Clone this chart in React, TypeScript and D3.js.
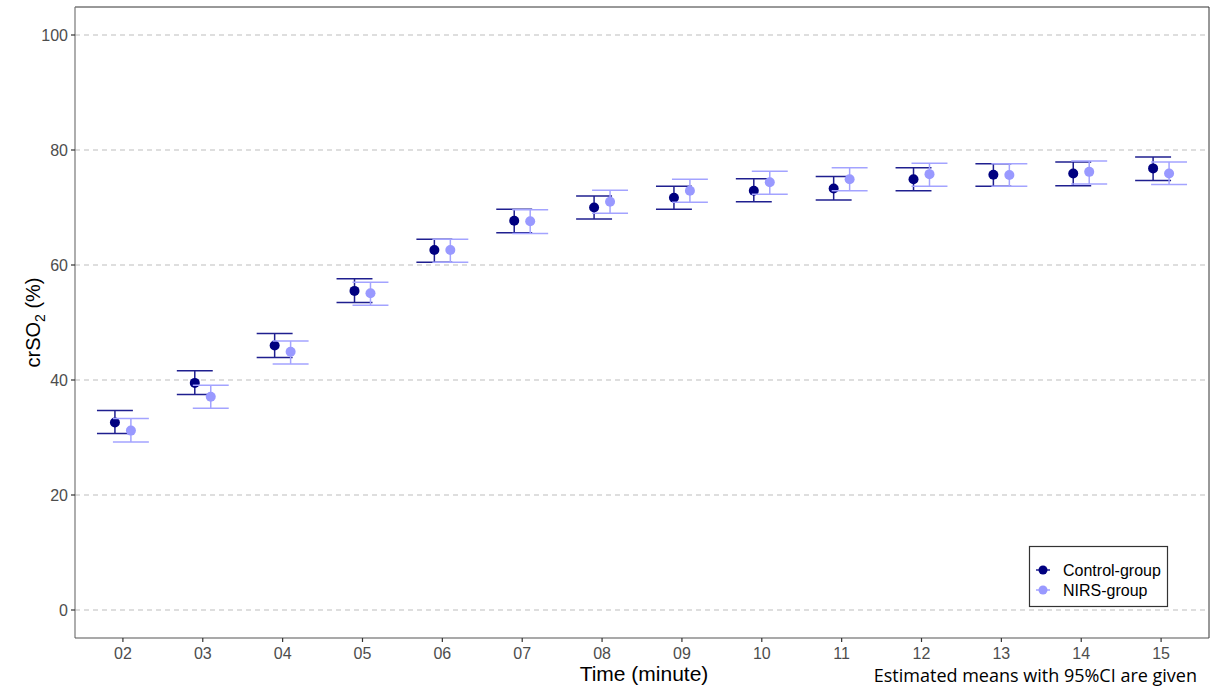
import React from "react";
import * as d3 from "d3";

const minutes = ["02", "03", "04", "05", "06", "07", "08", "09", "10", "11", "12", "13", "14", "15"];
const controlMean = [32.6, 39.5, 46.0, 55.5, 62.6, 67.7, 70.0, 71.7, 72.9, 73.3, 74.9, 75.7, 75.9, 76.8];
const controlLow = [30.7, 37.5, 43.9, 53.5, 60.5, 65.6, 68.0, 69.7, 71.0, 71.3, 72.9, 73.7, 73.8, 74.7];
const controlHigh = [34.7, 41.6, 48.1, 57.6, 64.5, 69.7, 72.0, 73.7, 75.0, 75.4, 76.9, 77.6, 77.9, 78.8];
const nirsMean = [31.2, 37.1, 44.9, 55.1, 62.6, 67.6, 71.0, 72.9, 74.4, 74.9, 75.8, 75.65, 76.2, 75.9];
const nirsLow = [29.2, 35.1, 42.8, 53.0, 60.5, 65.5, 69.0, 70.9, 72.3, 72.9, 73.7, 73.7, 74.1, 74.0];
const nirsHigh = [33.3, 39.1, 46.8, 57.0, 64.5, 69.6, 73.0, 74.9, 76.3, 76.9, 77.7, 77.6, 78.1, 77.9];
const yTicks = [0, 20, 40, 60, 80, 100];
const groups = ["Control-group", "NIRS-group"];

const W = 1210, H = 690;
const left = 75, right = 1209, top = 7, bottom = 638;

export default function App() {
  const x = d3.scaleLinear().domain([-0.6, minutes.length - 1 + 0.6]).range([left, right]);
  const y = d3.scaleLinear().domain([-5, 105]).range([bottom + 0.75, top - 0.75]);
  const dodge = 0.1;
  const capHalf = 0.225;

  const series = [
    { name: groups[0], mean: controlMean, low: controlLow, high: controlHigh, off: -dodge, pt: "#000080", bar: "#1f1f8f" },
    { name: groups[1], mean: nirsMean, low: nirsLow, high: nirsHigh, off: dodge, pt: "#9999ff", bar: "#a3a3ff" },
  ];
  const font = "Arial, 'Liberation Sans', sans-serif";

  return (
    <svg width={W} height={H} style={{ position: "absolute", left: 0, top: 0, background: "#fff" }}>
      <rect x={0} y={0} width={W} height={H} fill="#fff" />
      {yTicks.map((t) => (
        <line key={t} x1={left} x2={right} y1={y(t)} y2={y(t)} stroke="#bdbdbd" strokeWidth={1.2} strokeDasharray="5,4" />
      ))}
      <line x1={left} x2={right} y1={top} y2={top} stroke="#333" strokeWidth={1} />
      <line x1={right} x2={right} y1={top} y2={bottom} stroke="#333" strokeWidth={1} />
      <line x1={left} x2={left} y1={top} y2={bottom} stroke="#777" strokeWidth={1.2} />
      <line x1={left} x2={right} y1={bottom} y2={bottom} stroke="#555" strokeWidth={1.2} />
      {yTicks.map((t) => (
        <g key={t}>
          <line x1={left - 4} x2={left} y1={y(t)} y2={y(t)} stroke="#333" strokeWidth={1.2} />
          <text x={left - 7} y={y(t)} dy="0.36em" textAnchor="end" fontFamily={font} fontSize={16} fill="#4d4d4d">{t}</text>
        </g>
      ))}
      {minutes.map((m, i) => (
        <g key={m}>
          <line x1={x(i)} x2={x(i)} y1={bottom} y2={bottom + 4} stroke="#333" strokeWidth={1.2} />
          <text x={x(i)} y={bottom + 21} textAnchor="middle" fontFamily={font} fontSize={16} fill="#4d4d4d">{m}</text>
        </g>
      ))}
      {series.map((s) => (
        <g key={s.name}>
          {minutes.map((m, i) => {
            const cx = x(i + s.off);
            const xl = x(i + s.off - capHalf);
            const xr = x(i + s.off + capHalf);
            return (
              <g key={m}>
                <line x1={cx} x2={cx} y1={y(s.low[i])} y2={y(s.high[i])} stroke={s.bar} strokeWidth={1.5} />
                <line x1={xl} x2={xr} y1={y(s.low[i])} y2={y(s.low[i])} stroke={s.bar} strokeWidth={1.5} />
                <line x1={xl} x2={xr} y1={y(s.high[i])} y2={y(s.high[i])} stroke={s.bar} strokeWidth={1.5} />
              </g>
            );
          })}
          {minutes.map((m, i) => (
            <circle key={m} cx={x(i + s.off)} cy={y(s.mean[i])} r={5} fill={s.pt} />
          ))}
        </g>
      ))}
      <text x={644} y={681} textAnchor="middle" fontFamily={font} fontSize={21} fill="#000">Time (minute)</text>
      <text transform={`translate(40,${(top + bottom) / 2}) rotate(-90)`} textAnchor="middle" fontFamily={font} fontSize={20} fill="#000">
        crSO<tspan fontSize={14} dy={5}>2</tspan><tspan dy={-5}> (%)</tspan>
      </text>
      <text x={1197} y={682} textAnchor="end" fontFamily="'Open Sans', 'Noto Sans', sans-serif" fontSize={18} fill="#000">Estimated means with 95%CI are given</text>
      <rect x={1029.5} y={546.5} width={138} height={60} fill="#fff" stroke="#333" strokeWidth={1.2} />
      {series.map((s, k) => {
        const ly = 570 + k * 20;
        return (
          <g key={s.name}>
            <line x1={1036} x2={1050} y1={ly} y2={ly} stroke={s.bar} strokeWidth={1.5} />
            <circle cx={1043} cy={ly} r={4.5} fill={s.pt} />
            <text x={1063} y={ly} dy="0.36em" fontFamily={font} fontSize={16} fill="#000">{s.name}</text>
          </g>
        );
      })}
    </svg>
  );
}
